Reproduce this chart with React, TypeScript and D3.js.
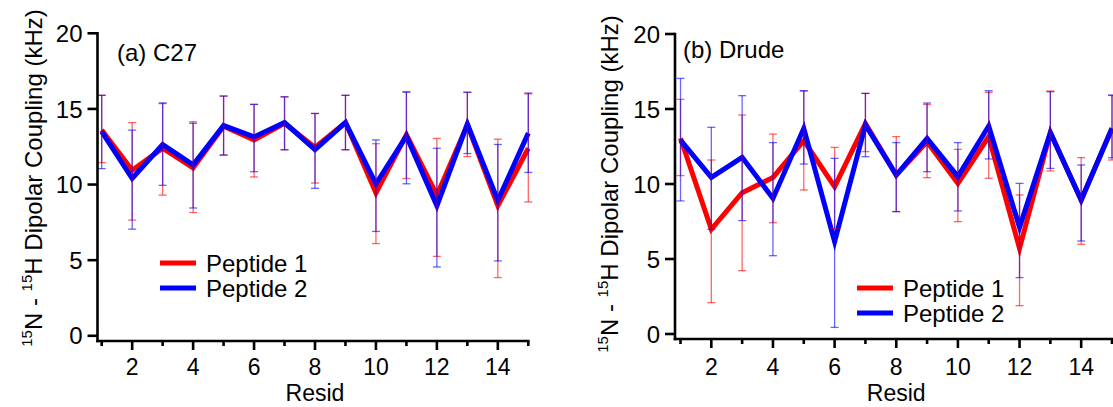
import React from "react";
import * as d3 from "d3";

const resid = [1, 2, 3, 4, 5, 6, 7, 8, 9, 10, 11, 12, 13, 14, 15];
const xTicks = [2, 4, 6, 8, 10, 12, 14];
const yTicks = [0, 5, 10, 15, 20];
const seriesNames = ["Peptide 1", "Peptide 2"];
const seriesColors = ["#ff0000", "#0000ff"];

// (a) C27
const c27P1 = [13.6, 10.95, 12.4, 11.1, 13.85, 12.95, 14.05, 12.45, 14.1, 9.45, 13.3, 9.3, 13.95, 8.6, 12.4];
const c27P1Upper = [15.9, 14.1, 15.35, 14.15, 15.85, 15.3, 15.8, 14.7, 15.9, 12.7, 16.15, 13.05, 16.1, 13.0, 16.0];
const c27P1Lower = [11.45, 7.65, 9.3, 8.15, 11.95, 10.5, 12.3, 10.1, 12.3, 6.1, 10.4, 5.25, 11.85, 3.85, 8.85];
const c27P2 = [13.5, 10.4, 12.65, 11.3, 13.9, 13.15, 14.1, 12.3, 14.1, 10.05, 13.2, 8.6, 14.0, 8.95, 13.4];
const c27P2Upper = [15.9, 13.6, 15.4, 14.05, 15.85, 15.3, 15.8, 14.7, 15.9, 12.95, 16.1, 12.4, 16.1, 12.65, 16.05];
const c27P2Lower = [11.05, 7.05, 9.95, 8.45, 11.95, 10.85, 12.3, 9.75, 12.3, 6.9, 10.05, 4.55, 12.05, 4.95, 10.8];

// (b) Drude
const drudeP1 = [13.05, 6.98, 9.42, 10.44, 12.89, 9.82, 14.04, 10.6, 12.82, 10.04, 13.16, 5.71, 13.42, 8.93, 13.7];
const drudeP1Upper = [15.64, 11.6, 14.6, 13.33, 16.2, 12.44, 16.04, 13.16, 15.3, 12.31, 16.11, 9.27, 16.2, 11.76, 15.9];
const drudeP1Lower = [10.56, 2.09, 4.22, 7.42, 9.6, 7.04, 12.16, 8.16, 10.42, 7.49, 10.38, 1.89, 10.87, 5.98, 11.6];
const drudeP2 = [12.93, 10.44, 11.78, 9.04, 13.71, 6.16, 13.93, 10.6, 13.04, 10.49, 13.87, 7.11, 13.42, 8.93, 13.71];
const drudeP2Upper = [17.04, 13.78, 15.89, 12.76, 16.22, 11.71, 16.04, 12.76, 15.4, 12.76, 16.22, 10.04, 16.15, 11.27, 15.93];
const drudeP2Lower = [8.87, 6.98, 7.56, 5.22, 11.33, 0.44, 11.82, 8.16, 10.82, 8.2, 11.67, 3.76, 11.04, 6.2, 11.75];

const panelTitles = ["(a) C27", "(b) Drude"];

const FONT = "'Liberation Sans', Arial, Helvetica, sans-serif";
const FS = 24;
const FS_X = 23;

type Series = { values: number[]; upper: number[]; lower: number[] };

const panels = [
  {
    title: panelTitles[0],
    series: [
      { values: c27P1, upper: c27P1Upper, lower: c27P1Lower },
      { values: c27P2, upper: c27P2Upper, lower: c27P2Lower },
    ] as Series[],
    axisX: 97.5,
    x1: 101.7,
    x15: 528.3,
    y0: 335.8,
    y20: 33.3,
    axisY: 341,
    titlePos: [117, 61],
    legendPos: [160, 263],
    ytitleX: 42,
    ytitleY: 178,
  },
  {
    title: panelTitles[1],
    series: [
      { values: drudeP1, upper: drudeP1Upper, lower: drudeP1Lower },
      { values: drudeP2, upper: drudeP2Upper, lower: drudeP2Lower },
    ] as Series[],
    axisX: 675,
    x1: 680.5,
    x15: 1112,
    y0: 334,
    y20: 34,
    axisY: 339,
    titlePos: [683, 58],
    legendPos: [857, 288],
    ytitleX: 618,
    ytitleY: 184,
  },
];

function Panel({ p }: { p: (typeof panels)[number] }) {
  const x = d3.scaleLinear().domain([1, 15]).range([p.x1, p.x15]);
  const y = d3.scaleLinear().domain([0, 20]).range([p.y0, p.y20]);
  const line = d3
    .line<number>()
    .x((_, i) => x(resid[i]))
    .y((d) => y(d));
  return (
    <g>
      {/* lines */}
      {p.series.map((s, si) => (
        <path
          key={"l" + si}
          d={line(s.values) || ""}
          fill="none"
          stroke={seriesColors[si]}
          strokeWidth={5}
          strokeLinejoin="miter"
        />
      ))}
      {/* error bars */}
      {p.series.map((s, si) => (
        <g key={"e" + si} stroke={seriesColors[si]} strokeOpacity={0.6} strokeWidth={1.3}>
          {resid.map((r, i) => (
            <g key={i}>
              <line x1={x(r)} x2={x(r)} y1={y(s.lower[i])} y2={y(s.upper[i])} />
              <line x1={x(r) - 4} x2={x(r) + 4} y1={y(s.upper[i])} y2={y(s.upper[i])} />
              <line x1={x(r) - 4} x2={x(r) + 4} y1={y(s.lower[i])} y2={y(s.lower[i])} />
            </g>
          ))}
        </g>
      ))}
      {/* y axis */}
      <line x1={p.axisX} x2={p.axisX} y1={y(20) - 1.2} y2={p.axisY + 1.2} stroke="#000" strokeWidth={2.6} />
      {yTicks.map((t) => (
        <g key={"yt" + t}>
          <line x1={p.axisX - 10} x2={p.axisX} y1={y(t)} y2={y(t)} stroke="#000" strokeWidth={2.6} />
          <text
            x={p.axisX - 15}
            y={y(t)}
            dy="0.36em"
            textAnchor="end"
            fontFamily={FONT}
            fontSize={FS}
            fill="#000"
          >
            {t}
          </text>
        </g>
      ))}
      {/* x axis */}
      <line x1={p.axisX - 1.3} x2={x(15) + 1.3} y1={p.axisY} y2={p.axisY} stroke="#000" strokeWidth={2.6} />
      {resid.map((r) => (
        <line
          key={"xt" + r}
          x1={x(r)}
          x2={x(r)}
          y1={p.axisY}
          y2={p.axisY + (r % 2 === 0 ? 9 : 5)}
          stroke="#000"
          strokeWidth={2.6}
        />
      ))}
      {xTicks.map((t) => (
        <text
          key={"xl" + t}
          x={x(t)}
          y={375}
          textAnchor="middle"
          fontFamily={FONT}
          fontSize={FS_X}
          fill="#000"
        >
          {t}
        </text>
      ))}
      <text x={x(8)} y={401} textAnchor="middle" fontFamily={FONT} fontSize={FS_X} fill="#000">
        Resid
      </text>
      {/* y title */}
      <text
        transform={`translate(${p.ytitleX},${p.ytitleY}) rotate(-90)`}
        textAnchor="middle"
        fontFamily={FONT}
        fontSize={FS}
        fill="#000"
      >
        <tspan fontSize={15} dy={-10}>15</tspan>
        <tspan dy={10}>N - </tspan>
        <tspan fontSize={15} dy={-10}>15</tspan>
        <tspan dy={10}>H Dipolar Coupling (kHz)</tspan>
      </text>
      {/* panel title */}
      <text x={p.titlePos[0]} y={p.titlePos[1]} fontFamily={FONT} fontSize={FS} fill="#000">
        {p.title}
      </text>
      {/* legend */}
      {seriesNames.map((n, i) => (
        <g key={"lg" + i}>
          <line
            x1={p.legendPos[0]}
            x2={p.legendPos[0] + 36}
            y1={p.legendPos[1] + i * 25}
            y2={p.legendPos[1] + i * 25}
            stroke={seriesColors[i]}
            strokeWidth={5}
          />
          <text
            x={p.legendPos[0] + 46}
            y={p.legendPos[1] + i * 25 + 8.5}
            fontFamily={FONT}
            fontSize={FS}
            fill="#000"
          >
            {n}
          </text>
        </g>
      ))}
    </g>
  );
}

export default function App() {
  return (
    <svg
      width={1113}
      height={407}
      style={{ position: "absolute", left: 0, top: 0, background: "#fff" }}
    >
      <rect x={0} y={0} width={1113} height={407} fill="#fff" />
      {panels.map((p, i) => (
        <Panel key={i} p={p} />
      ))}
    </svg>
  );
}
